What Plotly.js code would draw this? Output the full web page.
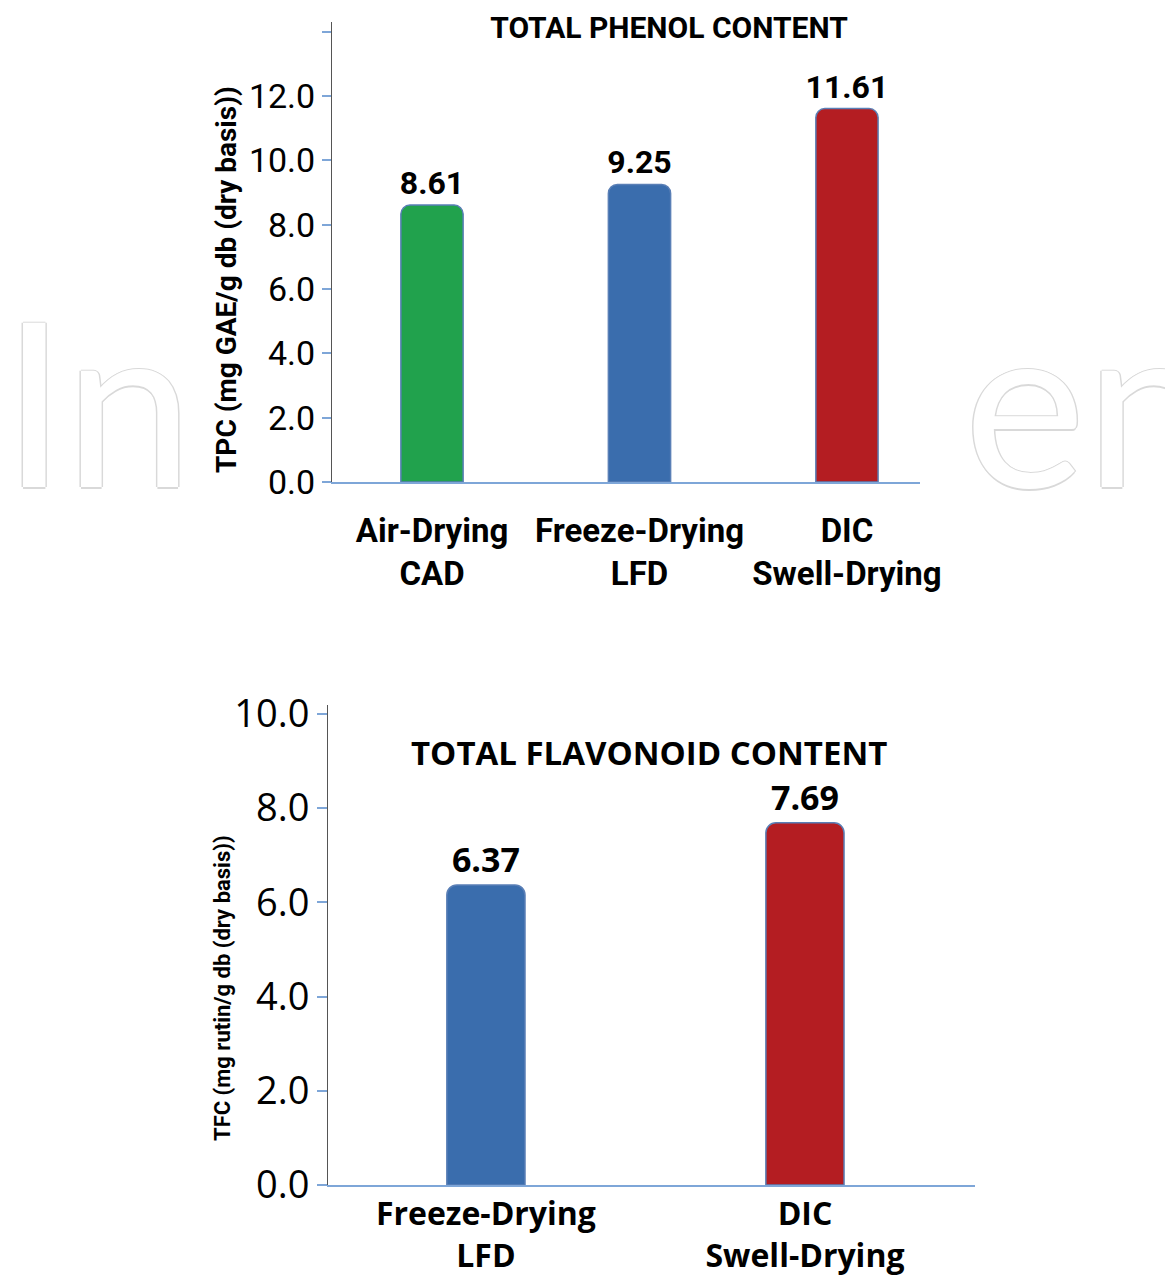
<!DOCTYPE html>
<html>
<head>
<meta charset="utf-8">
<script src="https://cdn.plot.ly/plotly-3.0.1.min.js"></script>
<style>
  html, body { margin: 0; padding: 0; background: #ffffff; }
  #chart { width: 1165px; height: 1279px; }
</style>
</head>
<body>
<div id="chart"></div>
<script>
// ---------- data ----------
const tpcCategories = ['Air-Drying<br>CAD', 'Freeze-Drying<br>LFD', 'DIC<br>Swell-Drying'];
const tpcValues = [8.61, 9.25, 11.61];
const tpcColors = ['#21a24d', '#3a6dad', '#b41d22'];
const tpcTickVals = [0, 2, 4, 6, 8, 10, 12, 14];
const tpcTickText = ['0.0', '2.0', '4.0', '6.0', '8.0', '10.0', '12.0', ''];

const tfcCategories = ['Freeze-Drying<br>LFD', 'DIC<br>Swell-Drying'];
const tfcValues = [6.37, 7.69];
const tfcColors = ['#3a6dad', '#b41d22'];
const tfcTickVals = [0, 2, 4, 6, 8, 10];
const tfcTickText = ['0.0', '2.0', '4.0', '6.0', '8.0', '10.0'];

const topTitle = 'TOTAL PHENOL CONTENT';
const bottomTitle = 'TOTAL FLAVONOID CONTENT';
const topYTitle = 'TPC (mg GAE/g db (dry basis))';
const bottomYTitle = 'TFC (mg rutin/g db (dry basis))';
const watermarkLeft = 'In';
const watermarkRight = 'en';

// ---------- styles ----------
const NARROW = 'Roboto, "Liberation Sans", sans-serif';
const WIDE = '"Open Sans", "DejaVu Sans", sans-serif';
const W = 1165, H = 1279;
const px = v => v / W;
const py = v => 1 - v / H;
const axisBlue = '#7ea6d8';
const barEdge = '#5a7fb6';
const wmShadow = '1.5px 0 0 #d9d9d9, -1.5px 0 0 #d9d9d9, 0 1.5px 0 #d9d9d9, 0 -1.5px 0 #d9d9d9';

const traces = [
  {
    type: 'bar',
    x: tpcCategories,
    y: tpcValues,
    xaxis: 'x', yaxis: 'y',
    width: 0.30,
    marker: { color: tpcColors, line: { color: barEdge, width: 1.5 }, cornerradius: 9 },
    texttemplate: '%{y:.2f}',
    textposition: 'outside',
    constraintext: 'none',
    cliponaxis: false,
    textfont: { family: NARROW, size: 32, color: '#000000', weight: 'bold' },
    hoverinfo: 'x+y',
    showlegend: false
  },
  {
    type: 'bar',
    x: tfcCategories,
    y: tfcValues,
    xaxis: 'x2', yaxis: 'y2',
    width: 0.245,
    marker: { color: tfcColors, line: { color: barEdge, width: 1.5 }, cornerradius: 10 },
    texttemplate: '%{y:.2f}',
    textposition: 'outside',
    constraintext: 'none',
    cliponaxis: false,
    textfont: { family: WIDE, size: 34, color: '#000000', weight: 'bold' },
    hoverinfo: 'x+y',
    showlegend: false
  }
];

const layout = {
  width: W,
  height: H,
  margin: { l: 0, r: 0, t: 0, b: 0 },
  paper_bgcolor: '#ffffff',
  plot_bgcolor: 'rgba(0,0,0,0)',
  showlegend: false,
  title: {
    text: topTitle,
    x: px(669), xanchor: 'center', xref: 'paper',
    y: py(27), yanchor: 'middle', yref: 'paper',
    font: { family: NARROW, size: 30, color: '#000000', weight: 'bold' }
  },
  xaxis: {
    domain: [px(332), px(920)],
    anchor: 'y',
    type: 'category',
    range: [-0.482, 2.352],
    showgrid: false, zeroline: false,
    showline: true, linecolor: axisBlue, linewidth: 2,
    ticks: '', tickangle: 0, ticklabelstandoff: 18,
    tickfont: { family: NARROW, size: 33, color: '#000000', weight: 'bold' },
    fixedrange: true
  },
  yaxis: {
    domain: [py(482), py(22)],
    anchor: 'x',
    range: [0, 14.3],
    tickvals: tpcTickVals,
    ticktext: tpcTickText,
    showgrid: false, zeroline: false,
    showline: true, linecolor: '#555555', linewidth: 1,
    ticks: 'outside', ticklen: 9, tickwidth: 2, tickcolor: axisBlue,
    tickfont: { family: NARROW, size: 34, color: '#000000' },
    fixedrange: true
  },
  xaxis2: {
    domain: [px(328), px(975)],
    anchor: 'y2',
    type: 'category',
    range: [-0.495, 1.533],
    showgrid: false, zeroline: false,
    showline: true, linecolor: axisBlue, linewidth: 2,
    ticks: '', tickangle: 0, ticklabelstandoff: 0,
    tickfont: { family: WIDE, size: 32, color: '#000000', weight: 'bold' },
    fixedrange: true
  },
  yaxis2: {
    domain: [py(1185), py(705)],
    anchor: 'x2',
    range: [0, 10.19],
    tickvals: tfcTickVals,
    ticktext: tfcTickText,
    showgrid: false, zeroline: false,
    showline: true, linecolor: '#555555', linewidth: 1,
    ticks: 'outside', ticklen: 10, tickwidth: 2, tickcolor: axisBlue,
    tickfont: { family: WIDE, size: 38, color: '#000000' },
    fixedrange: true
  },
  annotations: [
    {
      text: watermarkLeft,
      xref: 'paper', yref: 'paper',
      x: 0, y: py(398), xanchor: 'left', yanchor: 'middle',
      showarrow: false,
      font: { family: 'Lato, "Open Sans", sans-serif', size: 230, color: '#ffffff', shadow: wmShadow }
    },
    {
      text: watermarkRight,
      xref: 'paper', yref: 'paper',
      x: px(962), y: py(398), xanchor: 'left', yanchor: 'middle',
      showarrow: false,
      font: { family: 'Lato, "Open Sans", sans-serif', size: 230, color: '#ffffff', shadow: wmShadow }
    },
    {
      text: topYTitle,
      xref: 'paper', yref: 'paper',
      x: px(226), y: py(280), xanchor: 'center', yanchor: 'middle',
      textangle: -90, showarrow: false,
      font: { family: NARROW, size: 28, color: '#000000', weight: 'bold' }
    },
    {
      text: bottomYTitle,
      xref: 'paper', yref: 'paper',
      x: px(222), y: py(988), xanchor: 'center', yanchor: 'middle',
      textangle: -90, showarrow: false,
      font: { family: NARROW, size: 22, color: '#000000', weight: 'bold' }
    },
    {
      text: bottomTitle,
      xref: 'paper', yref: 'paper',
      x: px(649), y: py(752), xanchor: 'center', yanchor: 'middle',
      showarrow: false,
      font: { family: WIDE, size: 33, color: '#000000', weight: 'bold' }
    }
  ]
};

Plotly.newPlot('chart', traces, layout, { displayModeBar: false, staticPlot: true });
</script>
</body>
</html>
